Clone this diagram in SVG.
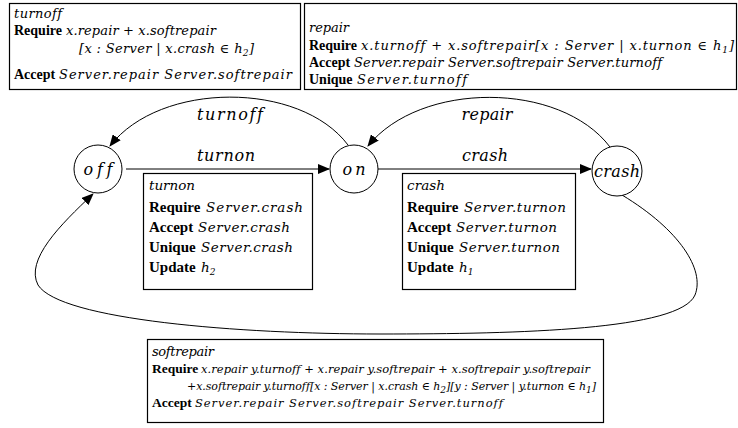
<svg xmlns="http://www.w3.org/2000/svg" width="738" height="428" viewBox="0 0 738 428">
<style>
text{font-family:"Liberation Serif","Times New Roman",serif;fill:#000;font-variant-ligatures:none;font-feature-settings:"liga" 0}
.b{font-size:15px;font-weight:bold}
.b14{font-size:14px;font-weight:bold}
.b13{font-size:13.5px;font-weight:bold}
.m{font-family:"DejaVu Serif",serif;font-size:13.5px;font-style:italic}
.m13{font-family:"DejaVu Serif",serif;font-size:13px;font-style:italic}
.m12{font-family:"DejaVu Serif",serif;font-size:11.5px;font-style:italic}
.m11{font-family:"DejaVu Serif",serif;font-size:11px;font-style:italic}
.lbl{font-family:"DejaVu Serif",serif;font-size:16px;font-style:italic}
.box{fill:#fff;stroke:#000;stroke-width:1.2}
.st{fill:#fff;stroke:#000;stroke-width:1}
.e{fill:none;stroke:#000;stroke-width:1}
.sub{font-size:9px}
</style>
<defs>
<marker id="ah" markerWidth="12" markerHeight="10" refX="11" refY="5" orient="auto" markerUnits="userSpaceOnUse">
<path d="M0,0 L12,5 L0,10 Z" fill="#000"/>
</marker>
</defs>

<g id="connectors">
<path class="e" d="M126,169 L329,169" marker-end="url(#ah)"/>
<path class="e" d="M378,169 L591,169" marker-end="url(#ah)"/>
<path class="e" d="M348,145 C300,81 160,81 110,146" marker-end="url(#ah)"/>
<path class="e" d="M610,147 C560,81 420,81 368,146" marker-end="url(#ah)"/>
<path class="e" d="M622,195 C680,230 705,270 695,295 C680,330 520,334 380,334 C240,334 60,320 38,285 C25,260 60,225 93,194" marker-end="url(#ah)"/>
<text class="lbl" x="230" y="120" text-anchor="middle" textLength="66" lengthAdjust="spacing">turnoff</text>
<text class="lbl" x="226" y="161" text-anchor="middle" textLength="58" lengthAdjust="spacing">turnon</text>
<text class="lbl" x="485" y="161" text-anchor="middle" textLength="46" lengthAdjust="spacing">crash</text>
<text class="lbl" x="487" y="120" text-anchor="middle" textLength="51" lengthAdjust="spacing">repair</text>
</g>

<g id="off">
<circle class="st" cx="98" cy="169" r="24"/>
<text class="lbl" x="98" y="175" text-anchor="middle" textLength="29" lengthAdjust="spacing">off</text>
</g>
<g id="on">
<circle class="st" cx="354" cy="169" r="24"/>
<text class="lbl" x="354" y="175" text-anchor="middle" textLength="23" lengthAdjust="spacing">on</text>
</g>
<g id="crash">
<circle class="st" cx="617" cy="171" r="25"/>
<text class="lbl" x="617" y="177" text-anchor="middle" textLength="46" lengthAdjust="spacing">crash</text>
</g>

<g id="turnoff-box">
<rect class="box" x="9.5" y="3.5" width="291" height="86"/>
<text class="m13" x="14" y="18" textLength="48" lengthAdjust="spacing">turnoff</text>
<text class="b14" x="14" y="35">Require</text>
<text class="m13" x="66" y="35" textLength="150" lengthAdjust="spacing">x.repair + x.softrepair</text>
<text class="m13" x="79" y="53" textLength="175" lengthAdjust="spacing">[x : Server | x.crash ∈ h<tspan class="sub" baseline-shift="-3">2</tspan>]</text>
<text class="b14" x="14" y="79">Accept</text>
<text class="m13" x="59" y="79" textLength="233" lengthAdjust="spacing">Server.repair Server.softrepair</text>
</g>

<g id="repair-box">
<rect class="box" x="304.5" y="3.5" width="432" height="86"/>
<text class="m13" x="309" y="32" textLength="40" lengthAdjust="spacing">repair</text>
<text class="b14" x="309" y="50">Require</text>
<text class="m13" x="361" y="50" textLength="373" lengthAdjust="spacing">x.turnoff + x.softrepair[x : Server | x.turnon ∈ h<tspan class="sub" baseline-shift="-3">1</tspan>]</text>
<text class="b14" x="309" y="67">Accept</text>
<text class="m13" x="354" y="67" textLength="308" lengthAdjust="spacing">Server.repair Server.softrepair Server.turnoff</text>
<text class="b14" x="309" y="84">Unique</text>
<text class="m13" x="357" y="84" textLength="110" lengthAdjust="spacing">Server.turnoff</text>
</g>

<g id="turnon-box">
<rect class="box" x="143.5" y="173.5" width="169" height="116"/>
<text class="m" x="149" y="190" textLength="46" lengthAdjust="spacing">turnon</text>
<text class="b" x="149" y="212">Require</text>
<text class="m" x="206" y="212" textLength="97" lengthAdjust="spacing">Server.crash</text>
<text class="b" x="149" y="232">Accept</text>
<text class="m" x="198" y="232" textLength="92" lengthAdjust="spacing">Server.crash</text>
<text class="b" x="149" y="252">Unique</text>
<text class="m" x="201" y="252" textLength="92" lengthAdjust="spacing">Server.crash</text>
<text class="b" x="149" y="272">Update</text>
<text class="m" x="201" y="272">h<tspan class="sub" baseline-shift="-3">2</tspan></text>
</g>

<g id="crash-box">
<rect class="box" x="402.5" y="173.5" width="173" height="116"/>
<text class="m" x="407" y="190" textLength="38" lengthAdjust="spacing">crash</text>
<text class="b" x="407" y="212">Require</text>
<text class="m" x="464" y="212" textLength="102" lengthAdjust="spacing">Server.turnon</text>
<text class="b" x="407" y="232">Accept</text>
<text class="m" x="456" y="232" textLength="101" lengthAdjust="spacing">Server.turnon</text>
<text class="b" x="407" y="252">Unique</text>
<text class="m" x="459" y="252" textLength="101" lengthAdjust="spacing">Server.turnon</text>
<text class="b" x="407" y="272">Update</text>
<text class="m" x="459" y="272">h<tspan class="sub" baseline-shift="-3">1</tspan></text>
</g>

<g id="softrepair-box">
<rect class="box" x="147.5" y="339.5" width="456" height="83"/>
<text class="m13" x="152" y="356" textLength="62" lengthAdjust="spacing">softrepair</text>
<text class="b13" x="152" y="373">Require</text>
<text class="m12" x="201" y="373" textLength="389" lengthAdjust="spacing">x.repair y.turnoff + x.repair y.softrepair + x.softrepair y.softrepair</text>
<text class="m11" x="187" y="390" textLength="409" lengthAdjust="spacing">+x.softrepair y.turnoff[x : Server | x.crash ∈ h<tspan class="sub" baseline-shift="-3">2</tspan>][y : Server | y.turnon ∈ h<tspan class="sub" baseline-shift="-3">1</tspan>]</text>
<text class="b13" x="152" y="407">Accept</text>
<text class="m12" x="195" y="407" textLength="308" lengthAdjust="spacing">Server.repair Server.softrepair Server.turnoff</text>
</g>
</svg>
